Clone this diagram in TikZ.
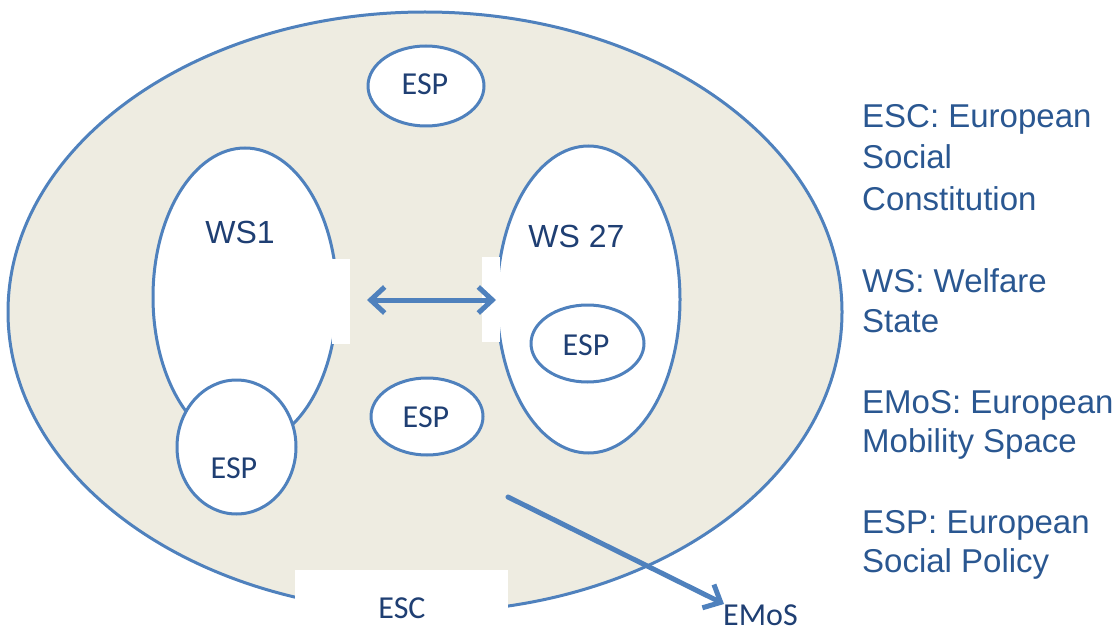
\documentclass[tikz,border=0pt]{standalone}
\usepackage{fontspec}
\setmainfont{Liberation Sans}
\newfontfamily\calib{Carlito}
\usetikzlibrary{shapes.geometric,arrows.meta}
\definecolor{bgfill}{HTML}{EEECE1}
\definecolor{acc}{HTML}{4F81BD}
\definecolor{txt}{HTML}{1F3F73}
\definecolor{lg}{HTML}{2A5791}
\begin{document}
\begin{tikzpicture}[x=1pt,y=-1pt,
  oval/.style={ellipse, draw=acc, line width=3pt, fill=white, inner sep=0pt},
  gapbox/.style={fill=white, draw=none, inner sep=0pt, anchor=north west},
  lbl/.style={text=txt, font=\calib\fontsize{32}{38}\selectfont, anchor=base, inner sep=0pt},
  wslbl/.style={text=txt, font=\fontsize{32}{38}\selectfont, anchor=base, inner sep=0pt},
  legend/.style={text=lg, font=\fontsize{33}{40}\selectfont, anchor=base west, inner sep=0pt},
  barb/.tip={Straight Barb[length=14pt,width=26pt]},
  arr/.style={draw=acc, line width=5pt, line cap=round},
]
\useasboundingbox (0,0) rectangle (1118,631);
% big ellipse (ESC)
\node[ellipse, draw=acc, line width=3pt, fill=bgfill, inner sep=0pt,
      minimum width=834pt, minimum height=600pt] (esc) at (425,312) {};
\node[gapbox, minimum width=213pt, minimum height=62pt] (escgap) at (295,570) {};
\node[lbl] (esclbl) at (402,618) {ESC};
% WS1
\node[oval, minimum width=184pt, minimum height=298pt] (ws1) at (245,297) {};
\node[gapbox, minimum width=18pt, minimum height=85pt] (gap1) at (332,259) {};
\node[wslbl] (ws1lbl) at (240,243) {WS1};
% WS 27
\node[oval, minimum width=183pt, minimum height=307pt] (ws27) at (588.5,299.5) {};
\node[gapbox, minimum width=18pt, minimum height=85pt] (gap2) at (482,257) {};
\node[wslbl] (ws27lbl) at (576.5,247) {WS 27};
% ESP ovals
\node[oval, minimum width=119pt, minimum height=134pt] (esp1) at (236.5,447) {};
\node[lbl] (esp1lbl) at (234,478) {ESP};
\node[oval, minimum width=113pt, minimum height=77pt] (esp27) at (587.5,343.5) {};
\node[lbl] (esp27lbl) at (586,355) {ESP};
\node[oval, minimum width=112pt, minimum height=77pt] (espmid) at (427,416.5) {};
\node[lbl] (espmidlbl) at (426,427) {ESP};
\node[oval, minimum width=116pt, minimum height=80pt] (esptop) at (426,86) {};
\node[lbl] (esptoplbl) at (425,95) {ESP};
% arrows
\coordinate (a1) at (367,300);
\coordinate (a2) at (496,300);
\draw[arr, {barb}-{barb}] (a1) -- (a2);
\node[lbl, anchor=base west] (emos) at (723,625) {EMoS};
\coordinate (d1) at (508,497);
\coordinate (d2) at (724,604);
\draw[arr, -{barb}] (d1) -- (d2);
% legend
\node[legend] (l1) at (862,128) {ESC: European};
\node[legend] (l2) at (862,169) {Social};
\node[legend] (l3) at (862,210) {Constitution};
\node[legend] (l4) at (862,292) {WS: Welfare};
\node[legend] (l5) at (862,332) {State};
\node[legend] (l6) at (862,413) {EMoS: European};
\node[legend] (l7) at (862,452) {Mobility Space};
\node[legend] (l8) at (862,533) {ESP: European};
\node[legend] (l9) at (862,572) {Social Policy};
\end{tikzpicture}
\end{document}
